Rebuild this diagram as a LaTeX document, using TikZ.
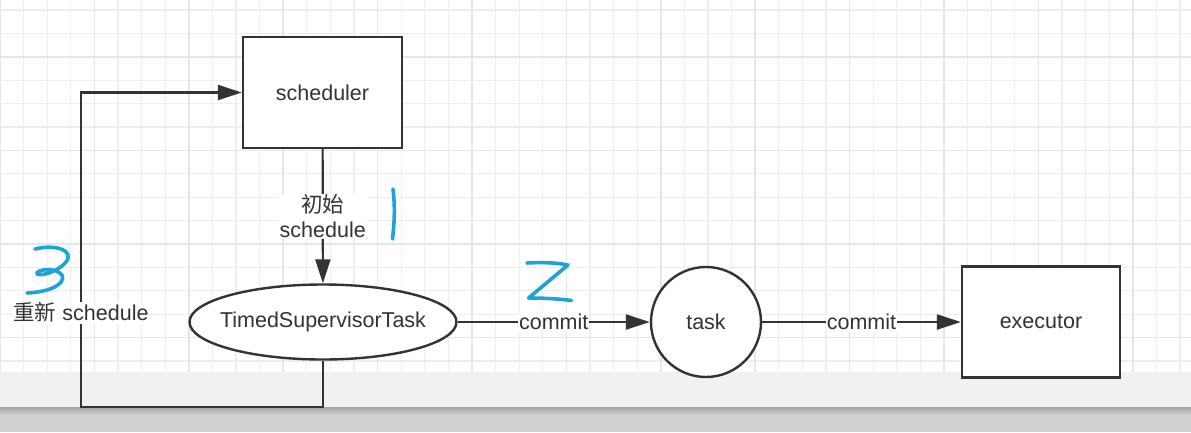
\documentclass[tikz,border=0pt]{standalone}
\usepackage{fontspec}
\setmainfont{Liberation Sans}
\newfontfamily\cjk{Noto Sans CJK SC}
\usepackage{tikz}
\usetikzlibrary{arrows.meta,shapes.geometric,positioning}
\definecolor{inkgray}{HTML}{333333}
\definecolor{penblue}{HTML}{1DA2DA}
\definecolor{gridminor}{HTML}{EEEEEE}
\definecolor{gridmajor}{HTML}{E7E7E7}
\definecolor{bandlight}{HTML}{F1F1F1}
\definecolor{banddark}{HTML}{D0D0D3}

\begin{document}
\begin{tikzpicture}[x=1pt,y=-1pt,>={Triangle[length=24pt,width=15pt]},
    every node/.style={font=\fontsize{21.5}{25}\selectfont, text=inkgray},
    box/.style={draw=inkgray, line width=2.4pt, fill=white},
    flow/.style={->, draw=inkgray, line width=2.2pt},
    tag/.style={fill=white, inner sep=1pt, align=center},
    pen/.style={draw=penblue, line width=3.6pt, line cap=round, line join=round}]
  \useasboundingbox (0,0) rectangle (1191,432);
  \fill[white] (0,0) rectangle (1191,372);

  % grid
  \foreach \gx in {0,...,50}
    \draw[gridminor, line width=1.3pt] (\gx*23.6,0) -- (\gx*23.6,372);
  \foreach \gy in {0,...,15}
    \draw[gridminor, line width=1.3pt] (0,10+\gy*23.4) -- (1191,10+\gy*23.4);
  \foreach \gx in {0,4,...,48}
    \draw[gridmajor, line width=1.5pt] (\gx*23.6,0) -- (\gx*23.6,372);
  \foreach \gy in {2,6,10,14}
    \draw[gridmajor, line width=1.5pt] (0,10+\gy*23.4) -- (1191,10+\gy*23.4);

  % bottom bands
  \fill[bandlight] (0,372) rectangle (1191,407);
  \fill[banddark] (0,407) rectangle (1191,432);
  \shade[top color=gray!70, bottom color=banddark] (0,407) rectangle (1191,415);

  \node[box, minimum width=159pt, minimum height=111pt] (sched) at (322.5,92.5) {scheduler};
  \node[box, ellipse, minimum width=267pt, minimum height=75pt] (sup) at (323,322) {\makebox[0pt]{TimedSupervisorTask}};
  \node[box, circle, minimum size=110pt] (task) at (706,322) {task};
  \node[box, minimum width=158pt, minimum height=111pt] (exec) at (1041,322) {executor};
  \coordinate (turn) at (81,407);

  \draw[flow] (sched) -- node[tag] {{\cjk 初始}\\schedule} (sup);
  \draw[flow] (sup) -- node[tag] {commit} (task);
  \draw[flow] (task) -- node[tag] {commit} (exec);
  \draw[flow] (sup.south) |- (turn) -- node[tag, pos=0.3] {{\cjk 重新} schedule} (turn |- sched.west) -- (sched.west);

  % handwritten numbers
  \draw[pen] (393,189) .. controls (395.5,210) and (394,225) .. (392.5,239);
  \draw[pen] (527,263) .. controls (545,262) and (558,263) .. (568,265) -- (528.5,298) .. controls (545,298) and (560,299) .. (571.5,300.5);
  \draw[pen] (35,249) .. controls (55,244) and (75,250) .. (66,262) .. controls (60,270) and (42,277) .. (37,274) .. controls (35,270) and (55,266) .. (62,275) .. controls (66,284) and (50,292) .. (27,293);
\end{tikzpicture}
\end{document}
